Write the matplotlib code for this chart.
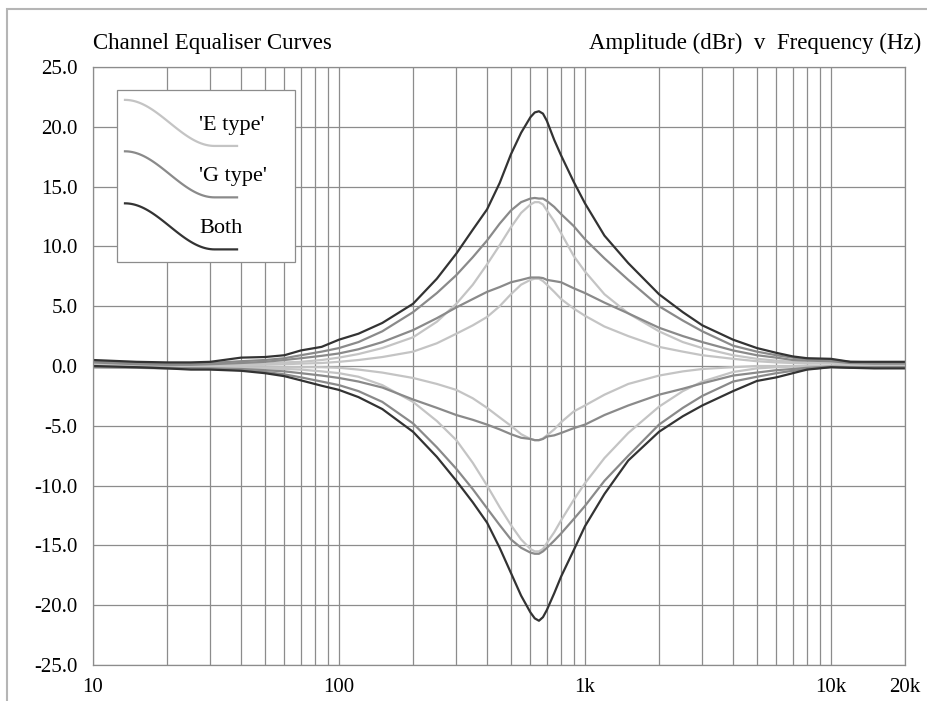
import numpy as np
import matplotlib
matplotlib.use("Agg")
import matplotlib.pyplot as plt
from matplotlib.patches import Rectangle

# frequency points (Hz)
freq = [10, 15, 20, 25, 30, 40, 50, 60, 70, 85, 100, 120, 150, 200, 250, 300, 350,
        400, 450, 500, 550, 600, 625, 650, 675, 700, 750, 800, 900, 1000, 1200, 1500, 2000,
        2500, 3000, 4000, 5000, 6000, 7000, 8000, 10000, 12000, 15000, 20000]

# 'E type' (light)
e_boost = [0.3, 0.1, 0.05, 0.05, 0.1, 0.15, 0.2, 0.3, 0.35, 0.5, 0.7, 1.0, 1.5, 2.4, 3.7, 5.2, 6.8,
           8.5, 10.1, 11.6, 12.8, 13.5, 13.7, 13.7, 13.5, 13.0, 12.1, 11.1, 9.2, 7.9, 6.0, 4.4, 2.9,
           2.0, 1.5, 0.9, 0.6, 0.45, 0.35, 0.3, 0.3, 0.2, 0.15, 0.15]
e_half = [0.2, 0.05, 0.0, 0.0, 0.0, 0.05, 0.1, 0.15, 0.2, 0.25, 0.35, 0.5, 0.75, 1.2, 1.9, 2.7, 3.4,
          4.1, 5.0, 6.0, 6.8, 7.2, 7.3, 7.3, 7.1, 6.8, 6.2, 5.6, 4.8, 4.2, 3.3, 2.5, 1.6,
          1.2, 0.9, 0.6, 0.4, 0.3, 0.25, 0.2, 0.2, 0.1, 0.05, 0.05]
e_half_cut = [0.1, 0.0, -0.05, -0.05, -0.05, -0.1, -0.1, -0.1, -0.1, -0.1, -0.15, -0.3, -0.55, -1.0, -1.5, -2.0, -2.7,
              -3.5, -4.3, -5.0, -5.7, -6.1, -6.2, -6.2, -6.05, -5.8, -5.3, -4.7, -3.8, -3.3, -2.4, -1.5, -0.8,
              -0.45, -0.25, -0.1, 0.0, 0.0, 0.0, 0.0, 0.0, 0.0, -0.05, -0.05]
e_cut = [0.0, -0.05, -0.1, -0.1, -0.1, -0.15, -0.2, -0.25, -0.3, -0.45, -0.6, -0.9, -1.6, -3.0, -4.6, -6.2, -8.1,
         -10.0, -11.8, -13.3, -14.5, -15.3, -15.5, -15.5, -15.3, -14.8, -13.9, -12.9, -11.2, -9.8, -7.7, -5.6, -3.4,
         -2.1, -1.3, -0.5, -0.2, -0.1, -0.05, 0.0, -0.05, -0.1, -0.1, -0.1]

# 'G type' (mid grey)
g_boost = [0.4, 0.25, 0.2, 0.2, 0.25, 0.4, 0.5, 0.65, 0.9, 1.2, 1.5, 2.0, 2.9, 4.5, 6.1, 7.6, 9.1,
           10.5, 11.9, 13.0, 13.7, 14.0, 14.05, 14.0, 14.0, 13.8, 13.3, 12.7, 11.7, 10.6, 9.0, 7.2, 5.0,
           3.8, 2.9, 1.7, 1.2, 0.9, 0.7, 0.55, 0.5, 0.35, 0.3, 0.3]
g_half = [0.3, 0.15, 0.1, 0.1, 0.15, 0.25, 0.35, 0.5, 0.65, 0.85, 1.05, 1.4, 2.0, 3.0, 4.0, 4.9, 5.6,
          6.2, 6.6, 7.0, 7.2, 7.4, 7.4, 7.4, 7.35, 7.2, 7.1, 7.0, 6.5, 6.1, 5.3, 4.4, 3.2,
          2.5, 2.0, 1.3, 0.9, 0.7, 0.5, 0.45, 0.4, 0.25, 0.2, 0.2]
g_half_cut = [-0.1, -0.1, -0.15, -0.2, -0.2, -0.25, -0.35, -0.45, -0.6, -0.8, -1.0, -1.3, -1.8, -2.8, -3.5, -4.1, -4.5,
              -4.9, -5.3, -5.7, -6.0, -6.1, -6.2, -6.2, -6.1, -5.9, -5.8, -5.6, -5.2, -4.9, -4.1, -3.3, -2.4,
              -1.9, -1.45, -0.8, -0.55, -0.35, -0.25, -0.15, -0.05, -0.1, -0.1, -0.1]
g_cut = [-0.1, -0.15, -0.2, -0.2, -0.25, -0.35, -0.5, -0.7, -0.95, -1.3, -1.6, -2.1, -3.0, -4.8, -6.8, -8.6, -10.3,
         -11.9, -13.3, -14.5, -15.2, -15.6, -15.7, -15.7, -15.5, -15.2, -14.6, -14.0, -12.8, -11.7, -9.6, -7.5, -4.9,
         -3.5, -2.5, -1.3, -0.9, -0.6, -0.4, -0.25, -0.1, -0.15, -0.15, -0.15]

# 'Both' (dark)
both_boost = [0.5, 0.35, 0.3, 0.3, 0.35, 0.7, 0.75, 0.9, 1.3, 1.6, 2.2, 2.7, 3.6, 5.2, 7.3, 9.4, 11.4,
              13.1, 15.3, 17.7, 19.5, 20.8, 21.2, 21.3, 21.1, 20.5, 18.9, 17.6, 15.4, 13.6, 10.9, 8.6, 6.0,
              4.5, 3.4, 2.2, 1.5, 1.1, 0.8, 0.65, 0.6, 0.35, 0.35, 0.35]
both_cut = [0.0, -0.1, -0.2, -0.3, -0.3, -0.4, -0.6, -0.85, -1.2, -1.65, -2.0, -2.6, -3.6, -5.5, -7.6, -9.6, -11.4,
            -13.1, -15.2, -17.3, -19.2, -20.6, -21.1, -21.3, -21.0, -20.4, -19.0, -17.6, -15.4, -13.4, -10.7, -7.9, -5.5,
            -4.2, -3.3, -2.1, -1.25, -0.95, -0.6, -0.3, -0.1, -0.15, -0.2, -0.2]

x_ticks = [10, 100, 1000, 10000, 20000]
x_labels = ["10", "100", "1k", "10k", "20k"]
y_ticks = [-25, -20, -15, -10, -5, 0, 5, 10, 15, 20, 25]

light = "#c4c4c4"
mid = "#8a8a8a"
dark = "#333333"

plt.rcParams['font.family'] = ['Liberation Serif', 'DejaVu Serif']

fig = plt.figure(figsize=(9.28, 7.01), dpi=100)
ax = fig.add_axes([93 / 928, 1 - 665 / 701, 812 / 928, 598 / 701])

# outer frame of the figure
fig.patches.append(Rectangle((7 / 928, -0.1), 1.2, 1.1 - 9 / 701, transform=fig.transFigure,
                             fill=False, edgecolor="#b5b5b5", lw=1.5))

ax.set_xscale("log")
ax.set_xlim(10, 20000)
ax.set_ylim(-25, 25)

minor = [m * d for d in (10, 100, 1000) for m in range(2, 10)]
ax.set_xticks(x_ticks)
ax.set_xticklabels(x_labels)
ax.set_xticks(minor, minor=True)
ax.xaxis.set_minor_formatter(matplotlib.ticker.NullFormatter())
ax.set_yticks(y_ticks)
ax.set_yticklabels(["%.1f" % v for v in y_ticks])
ax.tick_params(which="both", length=0, labelsize=15)
ax.tick_params(axis="x", pad=9)
ax.tick_params(axis="y", pad=11)
ax.grid(True, which="both", color="#8c8c8c", lw=0.9)
ax.set_axisbelow(True)
for s in ax.spines.values():
    s.set_color("#8c8c8c")
    s.set_linewidth(0.9)

lw = 1.6
for ys in (e_boost, e_half, e_half_cut, e_cut):
    ax.plot(freq, ys, color=light, lw=lw)
for ys in (g_boost, g_half, g_half_cut, g_cut):
    ax.plot(freq, ys, color=mid, lw=lw)
for ys in (both_boost, both_cut):
    ax.plot(freq, ys, color=dark, lw=lw)

# legend box with S-shaped keys
ax.add_patch(Rectangle((0.0296, 0.674), 0.2192, 0.2875, transform=ax.transAxes,
                       facecolor="white", edgecolor="#8c8c8c", lw=0.9, zorder=5))
t = np.linspace(0, 1, 60)
sx = 0.0394 + 0.138 * t
shape = np.where(t < 0.8, 0.5 - 0.5 * np.cos(np.pi * np.clip(t / 0.8, 0, 1)), 1.0)
for top, label, col, ty in ((0.945, "'E type'", light, 0.903),
                            (0.859, "'G type'", mid, 0.817),
                            (0.772, "Both", dark, 0.730)):
    ax.plot(sx, top - 0.077 * shape, color=col, lw=lw, transform=ax.transAxes, zorder=6)
    ax.text(0.131, ty, label, transform=ax.transAxes, fontsize=16, va="center", zorder=7)

fig.text(93 / 928, 1 - 43 / 701, "Channel Equaliser Curves", fontsize=16.5, va="center")
fig.text(921 / 928, 1 - 43 / 701, "Amplitude (dBr)  v  Frequency (Hz)", fontsize=16.5,
         va="center", ha="right")

fig.savefig("out.png", dpi=100)
